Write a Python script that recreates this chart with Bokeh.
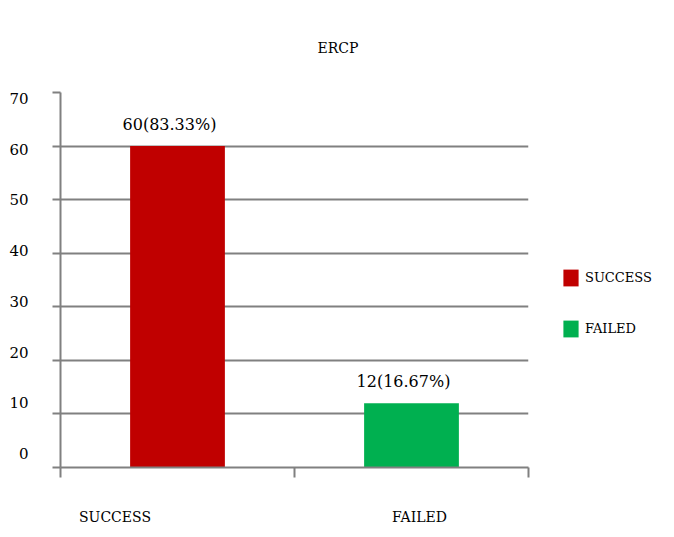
from bokeh.plotting import figure
from bokeh.models import (ColumnDataSource, Range1d, LinearAxis, FixedTicker, Grid,
                          CustomJSTickFormatter, Legend, LegendItem)
from bokeh.core.properties import value
from bokeh.embed import file_html
from bokeh.resources import INLINE

categories = ["SUCCESS", "FAILED"]
counts = [60, 12]
colors = ["#C00000", "#00B050"]
yticks = [0, 10, 20, 30, 40, 50, 60, 70]
title_text = "ERCP"

total = sum(counts)
bar_labels = [f"{c}({c / total * 100:.2f}%)" for c in counts]
xpos = [i + 0.5 for i in range(len(categories))]

FONT = "DejaVu Serif"
GRAY = "#808080"

src = ColumnDataSource(dict(x=xpos, cat=categories, val=counts, color=colors, lab=bar_labels))

p = figure(x_range=Range1d(0, len(categories)),
           y_range=Range1d(0, 70),
           frame_width=468, frame_height=375,
           min_border_left=60, min_border_right=130, min_border_top=92, min_border_bottom=54,
           x_axis_type=None, y_axis_type=None,
           output_backend="svg", toolbar_location=None)
p.outline_line_color = None
p.background_fill_color = "white"

p.extra_x_ranges = {"xlab": Range1d(0.321, 1.858)}
p.extra_y_ranges = {"ylab": Range1d(-2.76, 71.18)}

empty = CustomJSTickFormatter(code="return ''")

# grid lines
p.add_layout(Grid(dimension=1, ticker=FixedTicker(ticks=yticks),
                  grid_line_color=GRAY, grid_line_width=2))

# y axis with ticks (no labels)
yax = LinearAxis(ticker=FixedTicker(ticks=yticks), formatter=empty)
yax.axis_line_color = GRAY
yax.axis_line_width = 2
yax.major_tick_line_color = GRAY
yax.major_tick_line_width = 2
yax.major_tick_out = 8
yax.major_tick_in = 0
yax.minor_tick_line_color = None
yax.major_label_standoff = 0
p.add_layout(yax, "left")

# y labels axis
ylab = LinearAxis(y_range_name="ylab", ticker=FixedTicker(ticks=yticks))
ylab.axis_line_color = None
ylab.major_tick_line_color = None
ylab.minor_tick_line_color = None
ylab.major_label_standoff = 18
ylab.major_label_text_font = FONT
ylab.major_label_text_font_size = "15px"
ylab.major_label_text_color = "black"
p.add_layout(ylab, "left")

# x axis with boundary ticks (no labels)
xax = LinearAxis(ticker=FixedTicker(ticks=list(range(len(categories) + 1))), formatter=empty)
xax.axis_line_color = GRAY
xax.axis_line_width = 2
xax.major_tick_line_color = GRAY
xax.major_tick_line_width = 2
xax.major_tick_out = 10
xax.major_tick_in = 0
xax.minor_tick_line_color = None
xax.major_label_standoff = 0
p.add_layout(xax, "below")

# x labels axis
xlab = LinearAxis(x_range_name="xlab", ticker=FixedTicker(ticks=xpos),
                  major_label_overrides={pos: c for pos, c in zip(xpos, categories)})
xlab.axis_line_color = None
xlab.major_tick_line_color = None
xlab.minor_tick_line_color = None
xlab.major_label_standoff = 25
xlab.major_label_text_font = FONT
xlab.major_label_text_font_size = "14px"
xlab.major_label_text_color = "black"
p.add_layout(xlab, "below")

bars = p.vbar(x="x", top="val", width=0.405, bottom=0, source=src,
              fill_color="color", line_color=None)

p.text(x="x", y="val", text="lab", source=src, x_offset=-8, y_offset=-22,
       text_align="center", text_baseline="middle",
       text_font=value(FONT), text_font_size="16px", text_color="black")

p.title.text = title_text
p.title.align = "left"
p.title.offset = 257
p.title.text_font = FONT
p.title.text_font_size = "14px"
p.title.text_font_style = "normal"
p.title.text_color = "black"
p.title.standoff = 74

legend = Legend(items=[LegendItem(label=c, renderers=[bars], index=i) for i, c in enumerate(categories)],
                location=(33, 128))
legend.border_line_color = None
legend.background_fill_alpha = 0
legend.padding = 0
legend.margin = 0
legend.glyph_width = 19
legend.glyph_height = 21
legend.label_height = 21
legend.label_standoff = 5
legend.spacing = 30
legend.label_text_font = FONT
legend.label_text_font_size = "13px"
legend.label_text_color = "black"
p.add_layout(legend, "right")

open("out.html", "w").write(file_html(p, INLINE))
